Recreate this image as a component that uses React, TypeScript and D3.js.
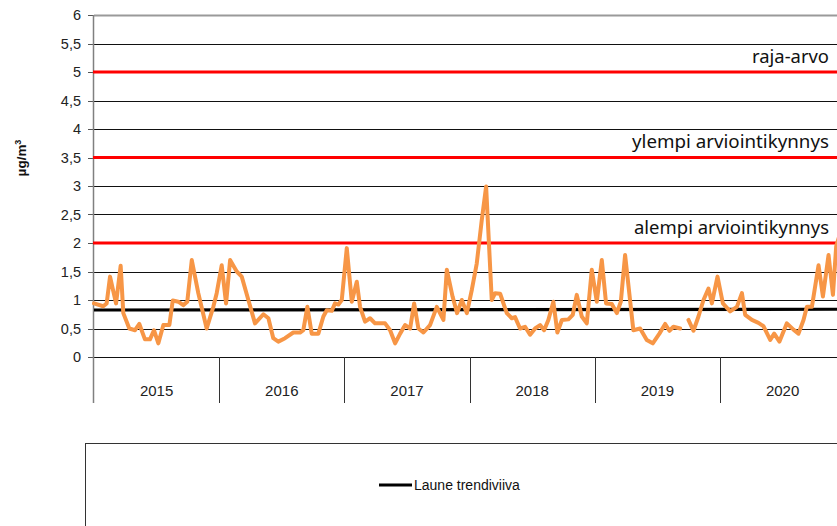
import React from "react";
import * as d3 from "d3";

const years = ["2015", "2016", "2017", "2018", "2019", "2020"];
const yTickValues = [0, 0.5, 1, 1.5, 2, 2.5, 3, 3.5, 4, 4.5, 5, 5.5, 6];
const yTickLabels = ["0", "0,5", "1", "1,5", "2", "2,5", "3", "3,5", "4", "4,5", "5", "5,5", "6"];
const thresholdValues = [5, 3.5, 2];
const thresholdLabels = ["raja-arvo", "ylempi arviointikynnys", "alempi arviointikynnys"];
const thresholdLabelWidths = [77, 197, 195];
const trendTimes = [2015, 2021];
const trendValues = [0.825, 0.838];
const legendLabel = "Laune trendiviiva";
const yAxisLabel = "µg/m";

// sample time (decimal year) and concentration (µg/m³); null = missing
const sampleTimes = [
  2015.0, 2015.074, 2015.101, 2015.128, 2015.176, 2015.213, 2015.234, 2015.282, 2015.328, 2015.362,
  2015.407, 2015.447, 2015.479, 2015.514, 2015.554, 2015.602, 2015.629, 2015.673, 2015.713, 2015.745,
  2015.781, 2015.833, 2015.9, 2015.953, 2015.98, 2016.02, 2016.055, 2016.087, 2016.14, 2016.18,
  2016.233, 2016.286, 2016.353, 2016.393, 2016.432, 2016.472, 2016.526, 2016.592, 2016.646, 2016.672,
  2016.704, 2016.739, 2016.792, 2016.832, 2016.859, 2016.899, 2016.925, 2016.952, 2016.979, 2017.019,
  2017.059, 2017.099, 2017.125, 2017.165, 2017.205, 2017.245, 2017.325, 2017.365, 2017.405, 2017.445,
  2017.485, 2017.525, 2017.557, 2017.591, 2017.631, 2017.684, 2017.738, 2017.791, 2017.818, 2017.864,
  2017.9, 2017.938, 2017.978, 2018.018, 2018.057, 2018.097, 2018.132, 2018.177, 2018.204, 2018.244,
  2018.297, 2018.337, 2018.363, 2018.403, 2018.443, 2018.483, 2018.523, 2018.563, 2018.595, 2018.629,
  2018.669, 2018.701, 2018.737, 2018.789, 2018.824, 2018.856, 2018.896, 2018.936, 2018.976, 2019.016,
  2019.056, 2019.09, 2019.136, 2019.176, 2019.208, 2019.242, 2019.308, 2019.362, 2019.415, 2019.463,
  2019.516, 2019.562, 2019.596, 2019.628, 2019.682, 2019.715, 2019.748, 2019.788, 2019.828, 2019.868,
  2019.908, 2019.935, 2019.98, 2020.023, 2020.081, 2020.135, 2020.175, 2020.201, 2020.255, 2020.307,
  2020.347, 2020.401, 2020.433, 2020.475, 2020.534, 2020.587, 2020.627, 2020.667, 2020.694, 2020.734,
  2020.787, 2020.822, 2020.867, 2020.902, 2020.928, 2020.95,
];
const concentrations: (number | null)[] = [
  0.94, 0.89, 0.94, 1.41, 0.94, 1.6, 0.77, 0.5, 0.47, 0.58,
  0.31, 0.31, 0.47, 0.24, 0.56, 0.56, 0.99, 0.97, 0.91, 0.97,
  1.7, 1.12, 0.5, 0.88, 1.12, 1.61, 0.94, 1.7, 1.5, 1.41,
  1.0, 0.59, 0.75, 0.68, 0.33, 0.27, 0.33, 0.43, 0.43, 0.47,
  0.88, 0.41, 0.41, 0.71, 0.82, 0.81, 0.94, 0.92, 1.0, 1.91,
  0.97, 1.32, 0.88, 0.62, 0.68, 0.59, 0.59, 0.47, 0.24, 0.41,
  0.56, 0.5, 0.94, 0.5, 0.43, 0.56, 0.88, 0.65, 1.53, 1.06,
  0.77, 1.0, 0.77, 1.18, 1.64, 2.4, 2.99, 1.0, 1.12, 1.11,
  0.77, 0.68, 0.7, 0.5, 0.53, 0.39, 0.5, 0.56, 0.47, 0.65,
  0.97, 0.43, 0.65, 0.66, 0.74, 1.09, 0.71, 0.59, 1.53, 0.97,
  1.7, 0.94, 0.93, 0.77, 0.97, 1.79, 0.47, 0.5, 0.3, 0.24,
  0.41, 0.58, 0.46, 0.53, 0.5, null, 0.65, 0.46, 0.71, 1.0,
  1.2, 0.94, 1.41, 0.94, 0.8, 0.88, 1.12, 0.74, 0.65, 0.6,
  0.54, 0.3, 0.41, 0.27, 0.59, 0.48, 0.41, 0.65, 0.88, 0.88,
  1.61, 1.06, 1.79, 1.09, 1.94, 2.1,
];

const W = 837;
const H = 526;

export default function App() {
  const x = d3.scaleLinear().domain([2015, 2021]).range([94, 845.2]);
  const y = d3.scaleLinear().domain([0, 6]).range([357, 15]);

  const series = sampleTimes.map((t, i) => ({ t, v: concentrations[i] }));
  const line = d3
    .line<{ t: number; v: number | null }>()
    .defined((d) => d.v !== null)
    .x((d) => x(d.t))
    .y((d) => y(d.v as number));

  const trendLine = d3
    .line<number>()
    .x((_, i) => x(trendTimes[i]))
    .y((d) => y(d));

  const x0 = x(2015);
  const yBottom = y(0);
  const catBottom = 403;

  return (
    <div style={{ position: "fixed", left: 0, top: 0 }}>
      <svg width={W} height={H} style={{ display: "block", background: "#fff" }}>
        {yTickValues.map((v, i) => (
          <line
            key={"g" + i}
            x1={x0}
            x2={W}
            y1={Math.round(y(v)) + 0.5}
            y2={Math.round(y(v)) + 0.5}
            stroke={v === 6 ? "#9a9a9a" : "#111"}
            strokeWidth={v === 6 ? 2 : 1}
          />
        ))}
        {yTickValues.map((v, i) => (
          <g key={"t" + i}>
            <line
              x1={88}
              x2={x0}
              y1={Math.round(y(v)) + 0.5}
              y2={Math.round(y(v)) + 0.5}
              stroke="#555"
              strokeWidth={1}
            />
            <text
              x={81}
              y={y(v)}
              dy="0.36em"
              textAnchor="end"
              fontFamily="'Liberation Sans', Arial, sans-serif"
              fontSize={14.5}
              fill="#222"
            >
              {yTickLabels[i]}
            </text>
          </g>
        ))}
        <line x1={x0 - 0.5} x2={x0 - 0.5} y1={15} y2={catBottom} stroke="#808080" strokeWidth={1.5} />
        {years.map((yr, i) => {
          const xb = x(2015 + i + 1);
          return (
            <g key={yr}>
              <line x1={Math.round(xb) + 0.5} x2={Math.round(xb) + 0.5} y1={yBottom} y2={catBottom} stroke="#333" strokeWidth={1} />
              <text
                x={x(2015 + i + 0.5)}
                y={396}
                textAnchor="middle"
                fontFamily="'Liberation Sans', Arial, sans-serif"
                fontSize={15}
                fill="#222"
              >
                {yr}
              </text>
            </g>
          );
        })}
        {thresholdValues.map((v, i) => (
          <g key={"th" + i}>
            <line x1={x0 - 1} x2={W} y1={y(v)} y2={y(v)} stroke="#ff0000" strokeWidth={3} />
            <text
              x={829 - thresholdLabelWidths[i]}
              y={y(v) - 9.5}
              textLength={thresholdLabelWidths[i]}
              lengthAdjust="spacingAndGlyphs"
              fontFamily="'Noto Sans', 'Open Sans', sans-serif"
              fontSize={17.5}
              fill="#111"
            >
              {thresholdLabels[i]}
            </text>
          </g>
        ))}
        <path d={trendLine(trendValues) || ""} fill="none" stroke="#000" strokeWidth={3.2} />
        <path
          d={line(series) || ""}
          fill="none"
          stroke="#F79646"
          strokeWidth={4}
          strokeLinejoin="round"
          strokeLinecap="round"
        />
        <text
          transform={`translate(26,158) rotate(-90)`}
          textAnchor="middle"
          fontFamily="'Liberation Sans', Arial, sans-serif"
          fontSize={13.5}
          fontWeight="bold"
          fill="#111"
        >
          {yAxisLabel}
          <tspan dy="-5" fontSize={9}>3</tspan>
        </text>
        <rect x={85.5} y={443.5} width={800} height={120} fill="none" stroke="#333" strokeWidth={1} />
        <line x1={379} x2={412} y1={485} y2={485} stroke="#000" strokeWidth={3} />
        <text
          x={414}
          y={490}
          fontFamily="'Liberation Sans Narrow', 'Arial Narrow', 'Liberation Sans', sans-serif"
          fontSize={14}
          fill="#111"
        >
          {legendLabel}
        </text>
      </svg>
    </div>
  );
}
